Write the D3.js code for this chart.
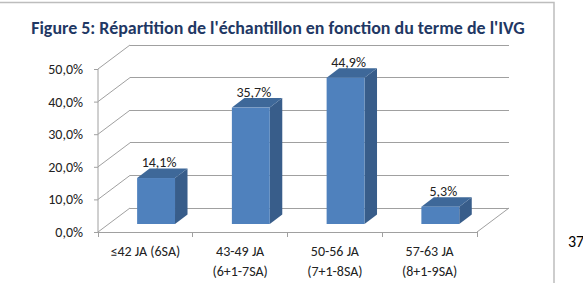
<!DOCTYPE html>
<meta charset="utf-8">
<style>
body { margin: 0; background: #fff; }
text { font-family: Carlito, Lato, "Noto Sans", sans-serif; }
.grid { stroke: #a0a0a0; stroke-width: 1; fill: none; shape-rendering: crispEdges; }
.wall { stroke: #a0a0a0; stroke-width: 1; fill: none; }
</style>
<svg width="583" height="283"></svg>
<script src="https://cdnjs.cloudflare.com/ajax/libs/d3/7.8.5/d3.min.js"></script>
<script>

var categories = [["≤42 JA (6SA)"], ["43-49 JA", "(6+1-7SA)"], ["50-56 JA", "(7+1-8SA)"], ["57-63 JA", "(8+1-9SA)"]];
var values = [14.1, 35.7, 44.9, 5.3];
var yTicks = [0, 10, 20, 30, 40, 50];
var title = "Figure 5: Répartition de l'échantillon en fonction du terme de l'IVG";
var pageNumber = "37";

var svg = d3.select("svg");

// frame around the chart (left and bottom edges are outside the crop)
svg.append("rect")
    .attr("x", -2).attr("y", 2.5)
    .attr("width", 556).attr("height", 300)
    .attr("fill", "none")
    .attr("stroke", "#bdbdbd")
    .attr("stroke-width", 1.5);

svg.append("text")
    .attr("x", 568).attr("y", 247)
    .attr("font-size", 16)
    .attr("fill", "#000")
    .text(pageNumber);

var t = svg.append("text")
    .attr("x", 278).attr("y", 34)
    .attr("text-anchor", "middle")
    .attr("font-weight", "bold")
    .attr("font-size", 15)
    .attr("fill", "#1f3864")
    .text(title);
// fit title width to the reference
var tw = t.node().getComputedTextLength();
t.attr("font-size", 15 * 494 / tw);

// 3d plot geometry
var x0 = 98, x1 = 477;
var depthX = 32, depthY = -24;

var x = d3.scaleBand()
    .domain(d3.range(categories.length))
    .range([x0, x1])
    .paddingInner(0);

var y = d3.scaleLinear()
    .domain([0, 50])
    .range([232, 69]);

var g = svg.append("g");

// back wall gridlines + left wall diagonals
yTicks.forEach(function (v) {
    g.append("line").attr("class", "grid")
        .attr("x1", x0 + depthX).attr("x2", x1 + depthX)
        .attr("y1", y(v) + depthY).attr("y2", y(v) + depthY);
    g.append("line").attr("class", "wall")
        .attr("x1", x0).attr("y1", y(v))
        .attr("x2", x0 + depthX).attr("y2", y(v) + depthY);
});

// floor
g.append("line").attr("class", "grid")
    .attr("x1", x0).attr("x2", x1).attr("y1", y(0)).attr("y2", y(0));
g.append("line").attr("class", "wall")
    .attr("x1", x1).attr("y1", y(0))
    .attr("x2", x1 + depthX).attr("y2", y(0) + depthY);

// y axis
var yAxis = d3.axisLeft(y)
    .tickValues(yTicks)
    .tickSize(4)
    .tickPadding(11)
    .tickFormat(function (d) { return d3.format(".1f")(d).replace(".", ",") + "%"; });

var ya = svg.append("g")
    .attr("transform", "translate(" + x0 + ",0)")
    .call(yAxis);
ya.select(".domain").attr("stroke", "#a0a0a0").attr("d", "M0," + y(50) + "V" + y(0));
ya.selectAll(".tick line").attr("stroke", "#a0a0a0");
ya.selectAll(".tick text").attr("font-size", 14).attr("fill", "#222")
    .attr("font-family", "Carlito, Lato, sans-serif");

// category ticks on the floor front edge
var catTicks = d3.range(categories.length + 1).map(function (i) { return x0 + i * x.bandwidth(); });
g.selectAll(".ctick").data(catTicks).enter().append("line")
    .attr("class", "grid")
    .attr("x1", function (d) { return d; }).attr("x2", function (d) { return d; })
    .attr("y1", y(0)).attr("y2", y(0) + 5);

// bars
var barW = x.bandwidth() * 0.4;
var offX = 10.7, offY = -8;       // front face position inside depth
var bdx = 12.5, bdy = -9.5;       // bar depth

var bars = svg.append("g").selectAll("g").data(values).enter().append("g");

function fx(i) { return x(i) + x.bandwidth() / 2 + offX - barW / 2; }
function fy(v) { return y(v) + offY; }
var base = y(0) + offY;

// side face
bars.append("path")
    .attr("fill", "#385d8a")
    .attr("d", function (d, i) {
        var r = fx(i) + barW;
        return "M" + r + "," + base + "L" + (r + bdx) + "," + (base + bdy) +
            "L" + (r + bdx) + "," + (fy(d) + bdy) + "L" + r + "," + fy(d) + "Z";
    });
// top face
bars.append("path")
    .attr("fill", "#3e6899")
    .attr("d", function (d, i) {
        var l = fx(i), r = l + barW, top = fy(d);
        return "M" + l + "," + top + "L" + r + "," + top + "L" + (r + bdx) + "," + (top + bdy) +
            "L" + (l + bdx) + "," + (top + bdy) + "Z";
    });
// front face
bars.append("rect")
    .attr("fill", "#4f81bd")
    .attr("x", function (d, i) { return fx(i); })
    .attr("y", function (d) { return fy(d); })
    .attr("width", barW)
    .attr("height", function (d) { return base - fy(d); });

// value labels
bars.append("text")
    .attr("x", function (d, i) { return fx(i) + barW / 2 + 3; })
    .attr("y", function (d) { return fy(d) - 11; })
    .attr("text-anchor", "middle")
    .attr("font-size", 14)
    .attr("fill", "#222")
    .text(function (d) { return d3.format(".1f")(d).replace(".", ",") + "%"; });

// category labels
var labels = svg.append("g").selectAll("text").data(categories).enter().append("text")
    .attr("text-anchor", "middle")
    .attr("font-size", 14)
    .attr("fill", "#222")
    .attr("transform", function (d, i) { return "translate(" + (x(i) + x.bandwidth() / 2) + ",256)"; });
labels.selectAll("tspan").data(function (d) { return d; }).enter().append("tspan")
    .attr("x", 0)
    .attr("dy", function (d, j) { return j ? 20 : 0; })
    .text(function (d) { return d; });

</script>
